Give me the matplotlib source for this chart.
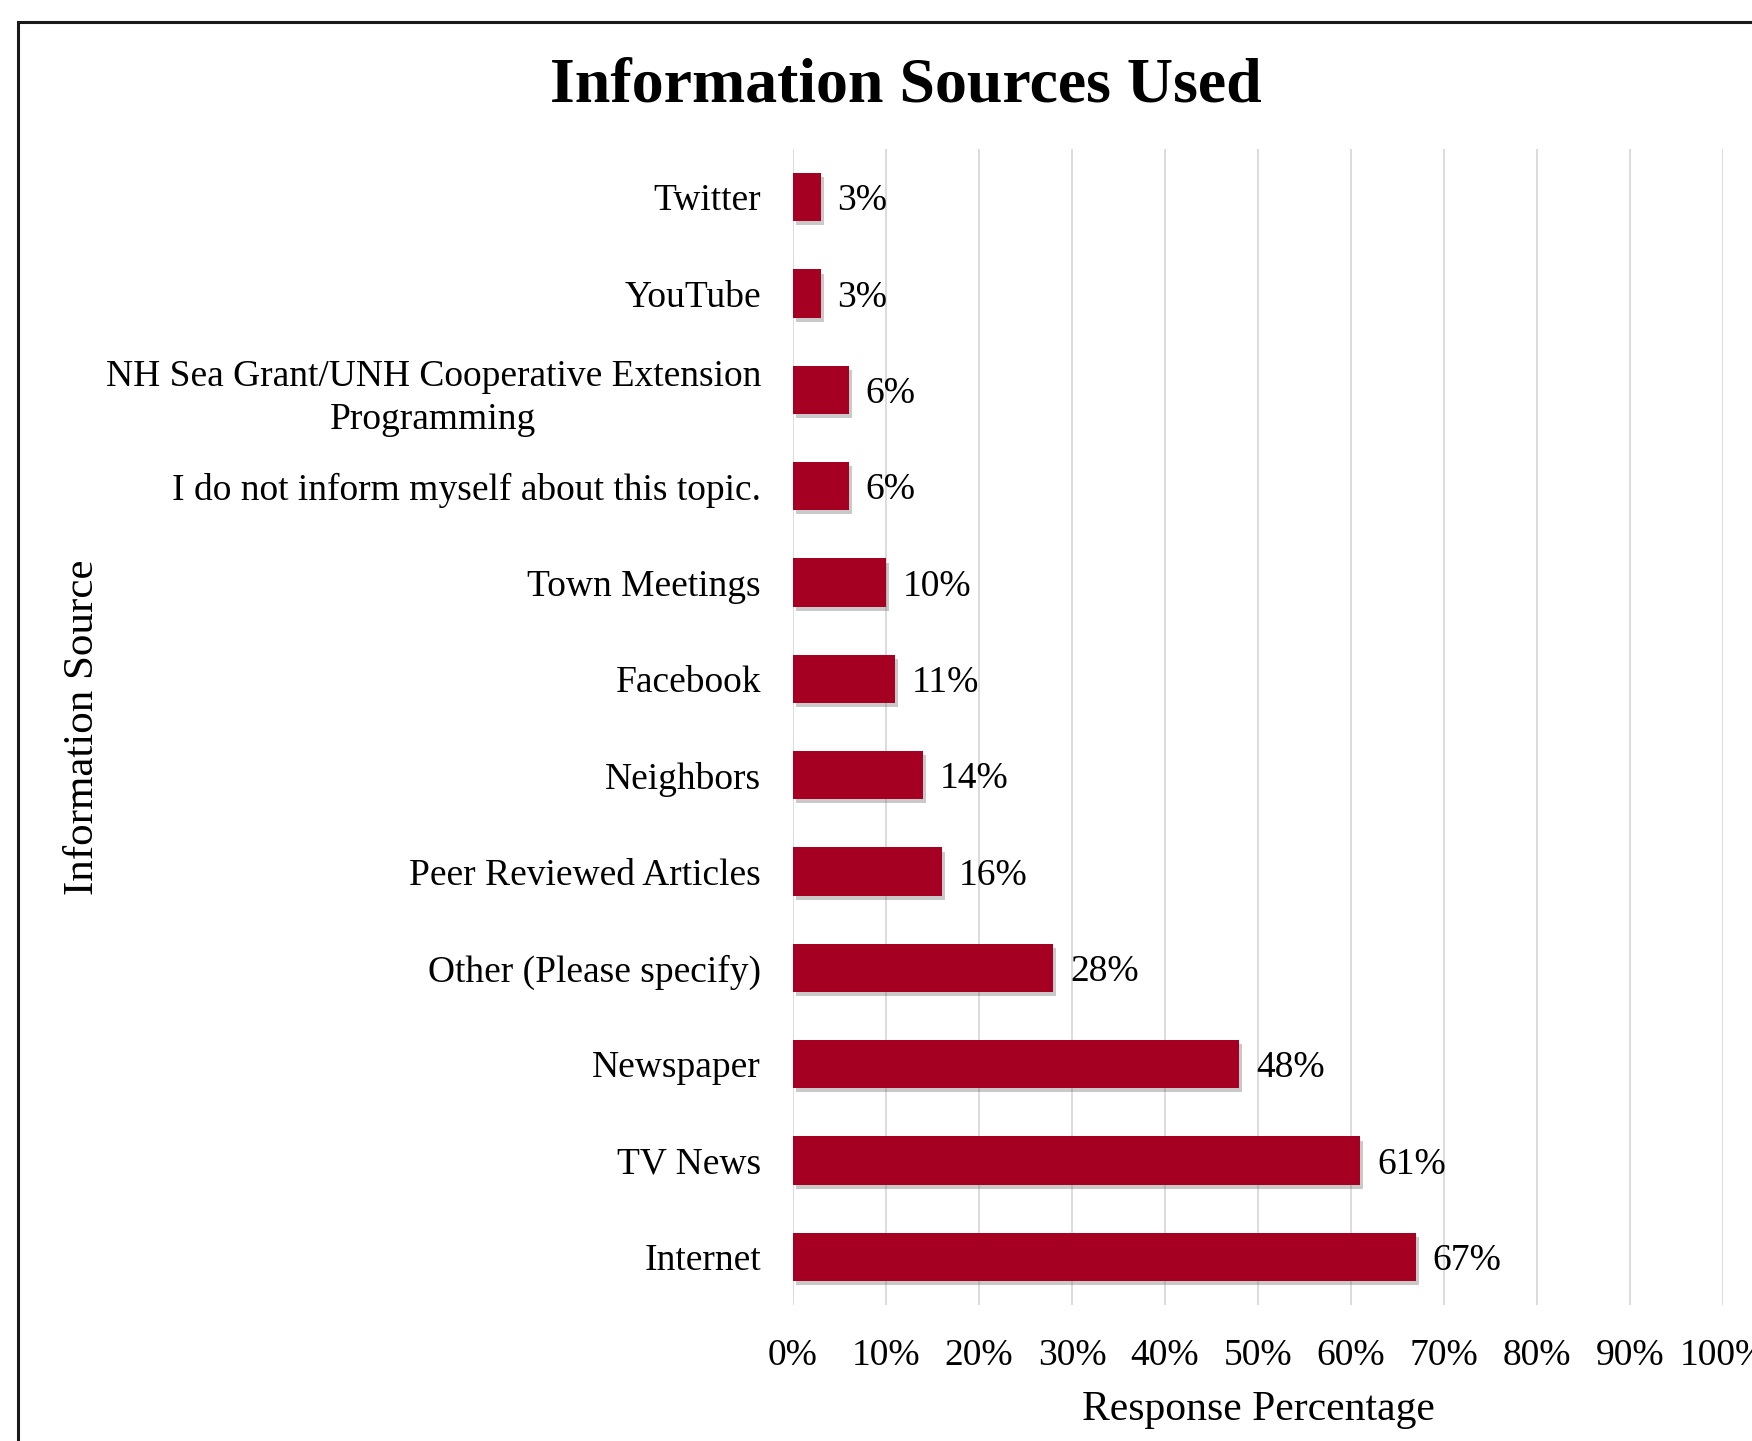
import matplotlib
matplotlib.use("Agg")
import matplotlib.pyplot as plt
import matplotlib.patheffects as pe
from matplotlib.patches import Rectangle

categories = ["Twitter", "YouTube",
              "NH Sea Grant/UNH Cooperative Extension\nProgramming",
              "I do not inform myself about this topic.",
              "Town Meetings", "Facebook", "Neighbors",
              "Peer Reviewed Articles", "Other (Please specify)",
              "Newspaper", "TV News", "Internet"]
values = [3, 3, 6, 6, 10, 11, 14, 16, 28, 48, 61, 67]
xticks = [0, 10, 20, 30, 40, 50, 60, 70, 80, 90, 100]
xtick_labels = [f"{t}%" for t in xticks]

plt.rcParams['font.family'] = ['Liberation Serif', 'DejaVu Serif']

W, H = 1752, 1441
fig = plt.figure(figsize=(W/100, H/100), dpi=100)
ax = fig.add_axes([793/W, 1-1305/H, (1723-793)/W, (1305-149)/H])

bar_color = "#A50021"
ypos = list(range(len(categories)))
bars = ax.barh(ypos, values, height=0.5, color=bar_color, zorder=3)
for b in bars:
    b.set_path_effects([pe.SimplePatchShadow(offset=(2, -3), shadow_rgbFace='#666666', alpha=0.35),
                        pe.Normal()])

ax.set_xlim(0, 100)
ax.set_ylim(len(categories)-0.5, -0.5)
ax.set_xticks(xticks)
ax.set_xticklabels(xtick_labels)
ax.set_yticks(ypos)
ax.set_yticklabels(categories, multialignment='center', linespacing=1.32)
ax.tick_params(axis='both', length=0, labelsize=27)
ax.tick_params(axis='y', pad=23)
ax.tick_params(axis='x', pad=24)
for s in ax.spines.values():
    s.set_visible(False)
ax.grid(axis='x', color='#D9D9D9', linewidth=1.3, zorder=0)
ax.set_axisbelow(True)

for y, v in zip(ypos, values):
    ax.annotate(f"{v}%", xy=(v, y), xytext=(12, 0), textcoords='offset points',
                va='center_baseline', ha='left', fontsize=27)

fig.text(906/W, 1-102/H, "Information Sources Used", ha='center', va='baseline',
         fontsize=46, fontweight='bold')
fig.text(1258/W, 1-1420/H, "Response Percentage", ha='center', va='baseline', fontsize=30)
fig.text(83/W, 1-727/H, "Information Source", ha='center', va='center',
         rotation=90, fontsize=31)

fig.patches.append(Rectangle((18/W, -0.2), 1.2, 1-22/H+0.2, transform=fig.transFigure,
                             fill=False, edgecolor='#1a1a1a', linewidth=2.2))

fig.savefig("out.png", dpi=100)
